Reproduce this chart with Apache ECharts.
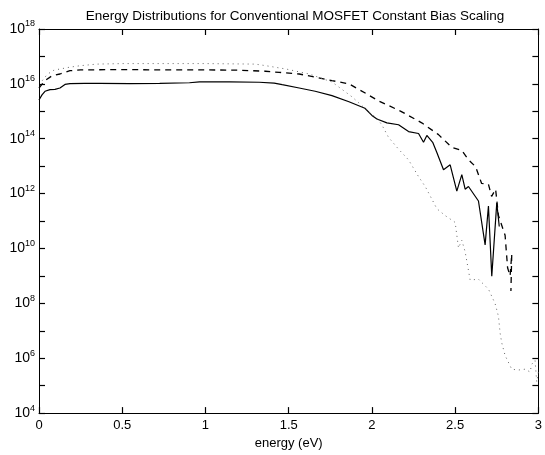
<!DOCTYPE html>
<html><head><meta charset="utf-8">
<script src="https://cdn.jsdelivr.net/npm/echarts@6/dist/echarts.min.js"></script>
<style>html,body{margin:0;padding:0;background:#fff}#c{width:545px;height:455px}</style>
</head><body><div id="c"></div>
<script>
// energy (eV) and log10 of distribution values
const solidE = [0,0.018,0.036,0.066,0.096,0.126,0.156,0.186,0.275,0.365,0.545,0.725,0.904,0.964,1.144,1.323,1.413,1.461,1.563,1.659,1.76,1.862,1.958,2.0,2.03,2.09,2.16,2.22,2.28,2.31,2.33,2.365,2.39,2.43,2.47,2.51,2.54,2.56,2.58,2.64,2.68,2.70,2.72,2.75,2.765];
const solidLog = [15.41,15.6,15.73,15.79,15.8,15.85,15.98,16.01,16.02,16.02,16.01,16.02,16.04,16.07,16.07,16.06,16.03,15.97,15.85,15.73,15.57,15.35,15.11,14.85,14.72,14.58,14.51,14.26,14.19,13.87,14.12,13.87,13.5,12.87,13.05,12.09,12.69,12.16,12.26,11.73,10.13,11.55,8.99,11.66,10.8];
const dashE = [0,0.02,0.036,0.08,0.126,0.186,0.25,0.5,0.75,0.964,1.2,1.36,1.443,1.563,1.665,1.76,1.862,1.964,2.04,2.174,2.299,2.40,2.479,2.539,2.581,2.623,2.659,2.70,2.719,2.743,2.76,2.80,2.815,2.83,2.84,2.835];
const dashLog = [15.85,16.0,16.12,16.3,16.36,16.48,16.51,16.52,16.51,16.51,16.5,16.46,16.42,16.36,16.24,16.12,16.0,15.65,15.38,15.0,14.58,14.15,13.69,13.58,13.23,12.98,12.37,12.34,11.9,12.16,11.2,10.48,9.3,9.0,9.8,8.45];
const dotE = [0.02,0.05,0.09,0.186,0.245,0.347,0.5,0.75,1.0,1.3,1.365,1.485,1.623,1.76,1.88,2.0,2.03,2.06,2.1,2.16,2.22,2.28,2.32,2.36,2.39,2.44,2.50,2.52,2.54,2.56,2.58,2.59,2.64,2.70,2.74,2.76,2.77,2.78,2.80,2.84,2.88,2.92,2.95,2.96,2.98,2.99,3.0];
const dotLog = [16.12,16.35,16.5,16.61,16.66,16.72,16.74,16.74,16.74,16.72,16.66,16.54,16.36,16.07,15.53,14.88,14.76,14.5,14.05,13.62,13.23,12.62,12.26,11.8,11.45,11.2,10.95,10.02,10.3,9.88,9.2,8.85,8.88,8.52,7.99,7.53,6.92,6.56,6.1,5.6,5.57,5.6,5.5,5.78,5.92,5.14,5.5];
const xTicks = [0,0.5,1,1.5,2,2.5,3];
const titleText = 'Energy Distributions for Conventional MOSFET Constant Bias Scaling';
const xName = 'energy (eV)';

const pts = (xs, ls) => xs.map((x, i) => [x, Math.pow(10, ls[i])]);
const font = 'Liberation Sans, Arial, sans-serif';
const chart = echarts.init(document.getElementById('c'));
const tick = {show: true, inside: true, length: 6, lineStyle: {color: '#000', width: 1.2}};
const line = {show: true, onZero: false, lineStyle: {color: '#000', width: 1}};
chart.setOption({
  animation: false,
  backgroundColor: '#fff',
  title: {text: titleText, left: 290, textAlign: 'center', top: 4,
    textStyle: {fontFamily: font, fontSize: 13.5, fontWeight: 'normal', color: '#000'}},
  grid: {left: 39, right: 5, top: 29, bottom: 33},
  xAxis: [
    {type: 'value', min: 0, max: 3, interval: 0.5, position: 'bottom',
      axisLine: line, axisTick: tick, splitLine: {show: false},
      name: xName, nameLocation: 'middle', nameGap: 21,
      nameTextStyle: {fontFamily: font, fontSize: 13, color: '#000'},
      axisLabel: {fontFamily: font, fontSize: 13, color: '#000', margin: 6,
        formatter: v => xTicks.includes(v) ? String(v) : ''}},
    {type: 'value', min: 0, max: 3, interval: 0.5, position: 'top',
      axisLine: line, axisTick: tick, splitLine: {show: false}, axisLabel: {show: false}}
  ],
  yAxis: [
    {type: 'log', logBase: 10, min: 1e4, max: 1e18, interval: 1, position: 'left',
      axisLine: line, axisTick: tick, splitLine: {show: false},
      axisLabel: {margin: 4, color: '#000',
        formatter: v => { const e = Math.round(Math.log10(v)); return e % 2 === 0 ? '{b|10}{s|' + e + '}' : ''; },
        rich: {b: {fontFamily: font, fontSize: 14, color: '#000'},
               s: {fontFamily: font, fontSize: 9, color: '#000', padding: [0, 0, 10, 0]}}}},
    {type: 'log', logBase: 10, min: 1e4, max: 1e18, interval: 1, position: 'right',
      axisLine: line, axisTick: tick, splitLine: {show: false}, axisLabel: {show: false}}
  ],
  series: [
    {type: 'line', data: pts(solidE, solidLog), showSymbol: false, symbol: 'none',
      lineStyle: {color: '#000', width: 1.2, type: 'solid'}},
    {type: 'line', data: pts(dashE, dashLog), showSymbol: false, symbol: 'none',
      lineStyle: {color: '#000', width: 1.3, type: [6, 5]}},
    {type: 'line', data: pts(dotE, dotLog), showSymbol: false, symbol: 'none',
      lineStyle: {color: '#666', width: 1, type: [1, 4]}}
  ]
});
</script></body></html>
